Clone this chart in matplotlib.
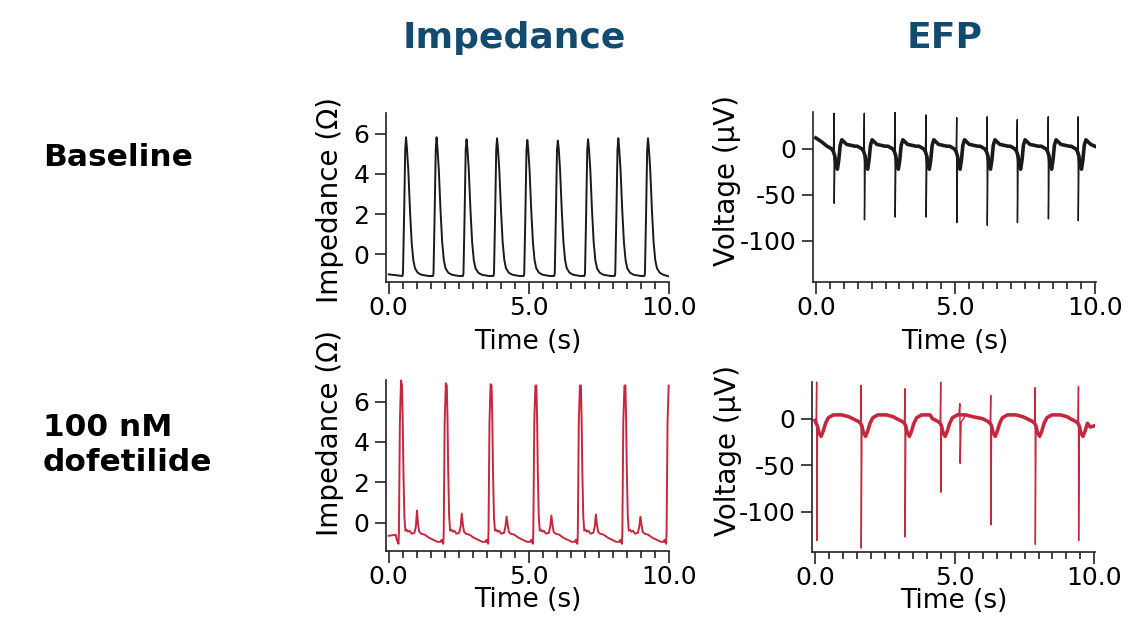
import numpy as np
import matplotlib
matplotlib.use("Agg")
import matplotlib.pyplot as plt
from matplotlib.ticker import MultipleLocator, FixedLocator

plt.rcParams['font.family'] = ['DejaVu Sans']

# ---- data ----
# Baseline impedance (Ohm): beat peak times (s) and peak heights
imp_base_beats = [0.62, 1.71, 2.78, 3.87, 4.95, 6.04, 7.12, 8.20, 9.26]
imp_base_peaks = [5.82, 5.82, 5.72, 5.77, 5.69, 5.65, 5.72, 5.77, 5.77]
# one beat, offsets from the peak (s) and values (Ohm); index 4 = peak
imp_base_shape_t = [-0.13, -0.11, -0.07, -0.03, 0.0, 0.03, 0.08, 0.14, 0.20, 0.26, 0.32, 0.42, 0.55, 0.80]
imp_base_shape_v = [-1.08, -0.95, 1.9, 5.2, 5.8, 5.3, 4.2, 2.2, 0.6, -0.3, -0.7, -0.92, -1.02, -1.08]
imp_base_head_t = [0.0, 0.3]
imp_base_head_v = [-1.0, -1.05]
imp_base_tail_t = [10.0]
imp_base_tail_v = [-1.1]

# Baseline EFP (uV): spike times, spike tops and bottoms
efp_base_beats = [0.655, 1.74, 2.84, 3.95, 5.05, 6.14, 7.22, 8.33, 9.40]
efp_base_top = [38.8, 38.8, 39.9, 37.0, 34.0, 35.0, 32.0, 35.0, 35.0]
efp_base_bottom = [-59, -77, -74, -74, -80, -83, -80, -76, -78]
# index 3 = top, index 4 = bottom
efp_base_shape_t = [-0.25, -0.08, -0.02, 0.0, 0.006, 0.03, 0.07, 0.12, 0.17, 0.22, 0.28, 0.45, 0.75]
efp_base_shape_v = [3, 0, -3, 38, -75, -8, -18, -22, -12, 4, 10, 5, 3]
efp_base_head_t = [0.0, 0.2]
efp_base_head_v = [12, 8]
efp_base_tail_t = [10.0]
efp_base_tail_v = [3]

# 100 nM dofetilide impedance (Ohm): peak times, peak heights, small second bump heights
imp_dof_beats = [0.44, 2.04, 3.64, 5.24, 6.83, 8.42, 10.0]
imp_dof_peaks = [7.05, 6.91, 6.86, 6.79, 6.79, 6.79, 6.79]
imp_dof_bumps = [0.6, 0.45, 0.3, 0.35, 0.4, 0.3, 0.3]
# index 4 = peak, index 16 = bump
imp_dof_shape_t = [-0.15, -0.09, -0.075, -0.04, 0.0, 0.035, 0.06, 0.085, 0.12, 0.155, 0.2, 0.25,
                   0.3, 0.38, 0.48, 0.53, 0.57, 0.61, 0.65, 0.72, 0.85, 1.0, 1.15, 1.3, 1.42]
imp_dof_shape_v = [-0.85, -1.05, -0.5, 5.0, 6.9, 6.8, 5.2, 2.6, 0.3, -0.4, -0.35, -0.45,
                   -0.4, -0.55, -0.5, -0.2, 0.5, -0.1, -0.45, -0.55, -0.6, -0.75, -0.85, -0.95, -0.95]
imp_dof_head_t = [0.0, 0.25]
imp_dof_head_v = [-0.65, -0.6]
imp_dof_tail_t = []
imp_dof_tail_v = []

# 100 nM dofetilide EFP (uV)
efp_dof_beats = [0.06, 1.65, 3.22, 4.50, 6.29, 7.88, 9.43]
efp_dof_top = [39.2, 35.7, 32.1, 39.2, 25.0, 33.2, 34.6]
efp_dof_bottom = [-131, -139, -127, -79, -114, -135, -131]
# index 3 = top, index 4 = bottom
efp_dof_shape_t = [-0.3, -0.1, -0.02, 0.0, 0.006, 0.03, 0.08, 0.16, 0.24, 0.32, 0.42, 0.6, 0.9, 1.15]
efp_dof_shape_v = [0, -3, -5, 35, -130, -8, -15, -19, -13, -5, 1, 4, 4, 2]
efp_dof_head_t = [0.0]
efp_dof_head_v = [-2]
efp_dof_tail_t = [9.85, 9.97]
efp_dof_tail_v = [-9, -8]
# extra deflection after the early beat
efp_dof_extra_t = [5.15, 5.185, 5.195, 5.23]
efp_dof_extra_v = [5, 16, -48, -4]

black = '#1a1a1a'
red = '#c4283f'
title_color = '#134b6e'


def build_trace(beats, shape_t, shape_v, subs, head_t, head_v, tail_t, tail_v,
                t1=10.0, skip=(), extra_t=(), extra_v=()):
    ts, vs = list(head_t), list(head_v)
    t_head_end = head_t[-1] if head_t else 0.0
    t_tail_start = tail_t[0] if tail_t else t1 + 1
    for i, bt in enumerate(beats):
        limit = beats[i + 1] + shape_t[0] if i + 1 < len(beats) else np.inf
        for j, (dt, v) in enumerate(zip(shape_t, shape_v)):
            t = bt + dt
            if t <= t_head_end or t > t1 + 1e-9 or t >= limit or t >= t_tail_start:
                continue
            if j in skip:
                continue
            if j in subs:
                v = subs[j][i]
            ts.append(t)
            vs.append(v)
    ts += list(extra_t)
    vs += list(extra_v)
    ts += list(tail_t)
    vs += list(tail_v)
    order = np.argsort(ts, kind='stable')
    return np.array(ts)[order], np.array(vs)[order]


def style_axes(ax, yticks, xlim, ylim):
    for s in ['top', 'right']:
        ax.spines[s].set_visible(False)
    for s in ['left', 'bottom']:
        ax.spines[s].set_linewidth(1.2)
        ax.spines[s].set_color('#222222')
    ax.set_xlim(*xlim)
    ax.set_ylim(*ylim)
    ax.xaxis.set_major_locator(FixedLocator([0, 5, 10]))
    ax.xaxis.set_minor_locator(MultipleLocator(0.5))
    ax.set_xticklabels(['0.0', '5.0', '10.0'])
    ax.yaxis.set_major_locator(FixedLocator(yticks))
    ax.set_yticklabels([str(v) for v in yticks])
    ax.tick_params(axis='x', which='major', direction='out', length=8.5, width=1.2,
                   pad=2, labelsize=18, color='#222222')
    ax.tick_params(axis='x', which='minor', direction='out', length=5, width=1.2, color='#222222')
    ax.tick_params(axis='y', which='major', direction='out', length=8, width=1.2,
                   pad=4, labelsize=18, color='#222222')
    ax.set_facecolor('none')


fig = plt.figure(figsize=(11.4, 6.3), dpi=100)

# Baseline impedance
ax1 = fig.add_axes([0.3386, 0.5529, 0.2480, 0.2673])
t, v = build_trace(imp_base_beats, imp_base_shape_t, imp_base_shape_v, {4: imp_base_peaks},
                   imp_base_head_t, imp_base_head_v, imp_base_tail_t, imp_base_tail_v)
ax1.plot(t, v, color=black, lw=1.4)
style_axes(ax1, [0, 2, 4, 6], (-0.096, 10.0), (-1.363, 7.015))
ax1.set_xlabel('Time (s)', fontsize=19)
ax1.xaxis.set_label_coords(0.5, -0.28)
ax1.set_ylabel('Impedance (Ω)', fontsize=20)
ax1.yaxis.set_label_coords(-0.15, 0.485)

# Baseline EFP
ax2 = fig.add_axes([0.7132, 0.5529, 0.2482, 0.2698])
subs = {3: efp_base_top, 4: efp_base_bottom}
t, v = build_trace(efp_base_beats, efp_base_shape_t, efp_base_shape_v, subs,
                   efp_base_head_t, efp_base_head_v, efp_base_tail_t, efp_base_tail_v)
ts, vs = build_trace(efp_base_beats, efp_base_shape_t, efp_base_shape_v, subs,
                     efp_base_head_t, efp_base_head_v, efp_base_tail_t, efp_base_tail_v, skip=(3, 4))
ax2.plot(t, v, color=black, lw=1.0)
ax2.plot(ts, vs, color=black, lw=2.6, solid_joinstyle='round')
style_axes(ax2, [0, -50, -100], (-0.097, 10.04), (-144.2, 40.5))
ax2.set_xlabel('Time (s)', fontsize=19)
ax2.xaxis.set_label_coords(0.5, -0.28)
ax2.set_ylabel('Voltage (μV)', fontsize=20)
ax2.yaxis.set_label_coords(-0.255, 0.598)

# Dofetilide impedance
ax3 = fig.add_axes([0.3386, 0.1259, 0.2482, 0.2710])
t, v = build_trace(imp_dof_beats, imp_dof_shape_t, imp_dof_shape_v, {4: imp_dof_peaks, 16: imp_dof_bumps},
                   imp_dof_head_t, imp_dof_head_v, imp_dof_tail_t, imp_dof_tail_v)
ax3.plot(t, v, color=red, lw=1.4, clip_on=False)
style_axes(ax3, [0, 2, 4, 6], (-0.096, 10.01), (-1.39, 7.07))
ax3.set_xlabel('Time (s)', fontsize=19)
ax3.xaxis.set_label_coords(0.5, -0.215)
ax3.set_ylabel('Impedance (Ω)', fontsize=20)
ax3.yaxis.set_label_coords(-0.15, 0.69)

# Dofetilide EFP
ax4 = fig.add_axes([0.7120, 0.1243, 0.2485, 0.2698])
subs = {3: efp_dof_top, 4: efp_dof_bottom}
t, v = build_trace(efp_dof_beats, efp_dof_shape_t, efp_dof_shape_v, subs,
                   efp_dof_head_t, efp_dof_head_v, efp_dof_tail_t, efp_dof_tail_v,
                   extra_t=efp_dof_extra_t, extra_v=efp_dof_extra_v)
ts, vs = build_trace(efp_dof_beats, efp_dof_shape_t, efp_dof_shape_v, subs,
                     efp_dof_head_t, efp_dof_head_v, efp_dof_tail_t, efp_dof_tail_v, skip=(3, 4))
ax4.plot(t, v, color=red, lw=1.0, clip_on=False)
ax4.plot(ts, vs, color=red, lw=2.6, solid_joinstyle='round')
style_axes(ax4, [0, -50, -100], (-0.118, 10.02), (-142.8, 39.6))
ax4.set_xlabel('Time (s)', fontsize=19)
ax4.xaxis.set_label_coords(0.5, -0.215)
ax4.set_ylabel('Voltage (μV)', fontsize=20)
ax4.yaxis.set_label_coords(-0.245, 0.598)

# column and row headings
fig.text(514 / 1140, 1 - 38 / 630, 'Impedance', ha='center', va='center',
         fontsize=26, fontweight='bold', color=title_color)
fig.text(945 / 1140, 1 - 38 / 630, 'EFP', ha='center', va='center',
         fontsize=26, fontweight='bold', color=title_color)
fig.text(43 / 1140, 1 - 157 / 630, 'Baseline', ha='left', va='center',
         fontsize=22.5, fontweight='bold', color='black')
fig.text(43 / 1140, 1 - 445 / 630, '100 nM\ndofetilide', ha='left', va='center',
         fontsize=22.5, fontweight='bold', color='black', linespacing=1.25)

fig.savefig('out.png', dpi=100)
